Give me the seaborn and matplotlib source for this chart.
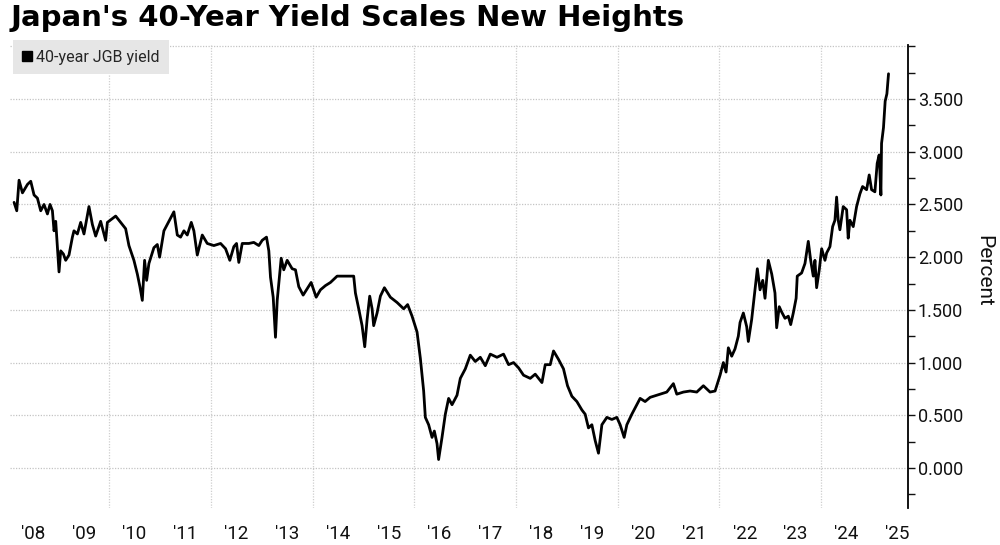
import numpy as np
import pandas as pd
import matplotlib
matplotlib.use("Agg")
import matplotlib.pyplot as plt
from matplotlib.ticker import MultipleLocator, FixedLocator, FuncFormatter
from matplotlib.lines import Line2D
import seaborn as sns

# ---------------- data ----------------
title = "Japan's 40-Year Yield Scales New Heights"
series_name = "40-year JGB yield"
y_label = "Percent"
label_years = list(range(2008, 2026))
year_labels = ["'08", "'09", "'10", "'11", "'12", "'13", "'14", "'15", "'16",
               "'17", "'18", "'19", "'20", "'21", "'22", "'23", "'24", "'25"]
grid_years = [2010, 2012, 2014, 2016, 2018, 2020, 2022, 2024]

dates = [
    2008.130, 2008.183, 2008.228, 2008.295, 2008.393, 2008.458, 2008.523, 2008.589,
    2008.654, 2008.719, 2008.786, 2008.837, 2008.884, 2008.916, 2008.949, 2009.014,
    2009.047, 2009.100, 2009.145, 2009.210, 2009.277, 2009.308, 2009.375, 2009.440,
    2009.505, 2009.603, 2009.670, 2009.735, 2009.833, 2009.931, 2009.965, 2010.128,
    2010.226, 2010.324, 2010.389, 2010.487, 2010.554, 2010.605, 2010.652, 2010.697,
    2010.737, 2010.782, 2010.880, 2010.947, 2010.992, 2011.077, 2011.175,
    2011.273, 2011.340, 2011.405, 2011.470, 2011.536, 2011.615, 2011.666, 2011.733,
    2011.831, 2011.929, 2012.059, 2012.191, 2012.289, 2012.373, 2012.452, 2012.505,
    2012.550, 2012.617, 2012.747, 2012.845, 2012.943, 2013.010, 2013.094, 2013.140,
    2013.173, 2013.226, 2013.271, 2013.305, 2013.383, 2013.434, 2013.501, 2013.599,
    2013.664, 2013.729, 2013.815, 2013.894, 2013.972, 2014.071, 2014.155, 2014.253,
    2014.352, 2014.483, 2014.680, 2014.809, 2014.843, 2014.908, 2014.974, 2015.026,
    2015.073, 2015.124, 2015.171, 2015.202, 2015.269, 2015.334, 2015.413, 2015.530,
    2015.662, 2015.792, 2015.870, 2015.957, 2016.055, 2016.120, 2016.185, 2016.218,
    2016.283, 2016.350, 2016.395, 2016.448, 2016.479, 2016.546, 2016.611, 2016.676,
    2016.743, 2016.841, 2016.906, 2017.004, 2017.102, 2017.200, 2017.299,
    2017.397, 2017.495, 2017.627, 2017.756, 2017.855, 2017.953, 2018.051, 2018.149,
    2018.281, 2018.379, 2018.511, 2018.576, 2018.674, 2018.739, 2018.837, 2018.935,
    2019.014, 2019.100, 2019.198, 2019.297, 2019.361, 2019.426, 2019.493, 2019.558,
    2019.623, 2019.690, 2019.788, 2019.886, 2019.984, 2020.049, 2020.128, 2020.181,
    2020.279, 2020.377, 2020.442, 2020.540, 2020.639,
    2020.835, 2020.966, 2021.096, 2021.163, 2021.293, 2021.424, 2021.556, 2021.686,
    2021.817, 2021.916, 2022.014, 2022.079, 2022.132, 2022.177, 2022.243, 2022.308,
    2022.373, 2022.407, 2022.472, 2022.538, 2022.570, 2022.636, 2022.701, 2022.747,
    2022.800, 2022.853, 2022.898, 2022.963, 2023.030, 2023.094, 2023.127, 2023.178,
    2023.225, 2023.291, 2023.356, 2023.403, 2023.454, 2023.510, 2023.532,
    2023.618, 2023.684, 2023.749, 2023.796, 2023.847, 2023.880, 2023.913, 2023.965,
    2024.012, 2024.077, 2024.110, 2024.175, 2024.228, 2024.273, 2024.306, 2024.338,
    2024.371, 2024.436, 2024.503, 2024.534, 2024.568, 2024.633, 2024.699, 2024.764,
    2024.817, 2024.896, 2024.947, 2024.994, 2025.059, 2025.104, 2025.143, 2025.177,
    2025.190, 2025.228, 2025.261, 2025.295, 2025.327,
]

yields = [
    2.52, 2.44, 2.73, 2.61, 2.69, 2.72, 2.59, 2.56,
    2.44, 2.50, 2.41, 2.50, 2.44, 2.25, 2.34, 1.86,
    2.06, 2.03, 1.97, 2.02, 2.19, 2.25, 2.22, 2.33,
    2.22, 2.48, 2.31, 2.20, 2.34, 2.16, 2.33, 2.39,
    2.33, 2.27, 2.11, 1.97, 1.84, 1.72, 1.59, 1.97,
    1.78, 1.94, 2.09, 2.12, 2.00, 2.25, 2.34,
    2.43, 2.21, 2.19, 2.25, 2.21, 2.33, 2.25, 2.02,
    2.21, 2.13, 2.11, 2.13, 2.08, 1.97, 2.10, 2.13,
    1.95, 2.13, 2.13, 2.14, 2.11, 2.16, 2.19, 2.06,
    1.81, 1.62, 1.24, 1.59, 1.99, 1.88, 1.97, 1.89,
    1.88, 1.72, 1.64, 1.70, 1.76, 1.62, 1.69, 1.73,
    1.76, 1.82, 1.82, 1.82, 1.66, 1.51, 1.35, 1.15,
    1.41, 1.63, 1.51, 1.35, 1.47, 1.63, 1.71, 1.62,
    1.57, 1.51, 1.55, 1.44, 1.29, 1.04, 0.73, 0.48,
    0.41, 0.29, 0.35, 0.23, 0.08, 0.29, 0.51, 0.66,
    0.60, 0.69, 0.85, 0.94, 1.07, 1.01, 1.05,
    0.97, 1.08, 1.05, 1.08, 0.98, 1.00, 0.95, 0.88,
    0.85, 0.89, 0.81, 0.98, 0.98, 1.11, 1.03, 0.94,
    0.78, 0.68, 0.63, 0.55, 0.51, 0.38, 0.41, 0.26,
    0.14, 0.41, 0.48, 0.46, 0.48, 0.41, 0.29, 0.41,
    0.51, 0.60, 0.66, 0.63, 0.67,
    0.70, 0.72, 0.80, 0.70, 0.72, 0.73, 0.72, 0.78,
    0.72, 0.73, 0.88, 1.00, 0.91, 1.14, 1.06, 1.13,
    1.25, 1.38, 1.47, 1.34, 1.20, 1.41, 1.69, 1.89,
    1.69, 1.78, 1.61, 1.97, 1.84, 1.66, 1.33, 1.53,
    1.48, 1.42, 1.44, 1.36, 1.47, 1.61, 1.82,
    1.85, 1.94, 2.15, 1.97, 1.82, 1.97, 1.71, 1.88,
    2.08, 1.97, 2.04, 2.10, 2.29, 2.35, 2.57, 2.35,
    2.26, 2.48, 2.45, 2.18, 2.35, 2.29, 2.48, 2.60,
    2.67, 2.64, 2.78, 2.64, 2.62, 2.89, 2.97, 2.59,
    3.08, 3.23, 3.48, 3.55, 3.74,
]

# ---------------- style ----------------
sns.set_theme(style="white")
plt.rcParams['font.family'] = ['Roboto', 'DejaVu Sans']

fig = plt.figure(figsize=(10, 5.45), dpi=100)
ax = fig.add_axes([0.010, 1 - 508 / 545, 0.898, (508 - 45) / 545])

df = pd.DataFrame({"date": dates, "yield": yields})
sns.lineplot(data=df, x="date", y="yield", ax=ax, color="black",
             linewidth=2.0, legend=False, zorder=3)

ax.set_xlim(2008.05, 2025.71)
ax.set_ylim(-0.38, 4.013)

# y axis on the right
ax.yaxis.tick_right()
ax.set_yticks(np.arange(0, 4.01, 0.5))
ax.yaxis.set_minor_locator(MultipleLocator(0.25))
ax.yaxis.set_major_formatter(FuncFormatter(lambda v, p: "" if v > 3.9 else f"{v:.3f}"))
ax.tick_params(axis='y', which='both', direction='out', length=5, width=1.0,
               colors='#111111', labelsize=13, pad=2, right=True, left=False)

# x axis: labels at mid-year, grid at every other Jan 1
ax.set_xticks([y + 0.5 for y in label_years])
ax.set_xticklabels(year_labels)
ax.xaxis.set_minor_locator(FixedLocator(grid_years))
ax.tick_params(axis='x', which='both', length=0, labelsize=13.5, pad=12, colors='#111111')

ax.grid(False)
ax.set_axisbelow(True)
ax.grid(axis='y', which='major', color='#c4c4c4', linestyle=(0, (1, 1.2)), linewidth=0.9)
ax.grid(axis='x', which='minor', color='#cfcfcf', linestyle=(0, (1, 1.2)), linewidth=0.9)

for s in ['left', 'top', 'bottom']:
    ax.spines[s].set_visible(False)
ax.spines['right'].set_color('black')
ax.spines['right'].set_linewidth(1.3)
ax.set_xlabel('')
ax.set_ylabel('')

fig.text(0.984, 1 - 271 / 545, y_label, rotation=270, ha='center', va='center',
         fontsize=15, color='#111111')
fig.text(0.011, 1 - 18 / 545, title, fontsize=21, fontweight='bold',
         family=['DejaVu Sans'], ha='left', va='center', color='black')

handle = Line2D([], [], marker='s', color='black', linestyle='none', markersize=7)
fig.legend(handles=[handle], labels=[series_name], loc='upper left',
           bbox_to_anchor=(0.013, 1 - 40 / 545), bbox_transform=fig.transFigure,
           frameon=True, facecolor='#e6e6e6', edgecolor='none', fancybox=False,
           framealpha=1, fontsize=11.5, handlelength=0.6, handletextpad=0.25,
           borderpad=0.6, borderaxespad=0)

fig.savefig('out.png', dpi=100)
